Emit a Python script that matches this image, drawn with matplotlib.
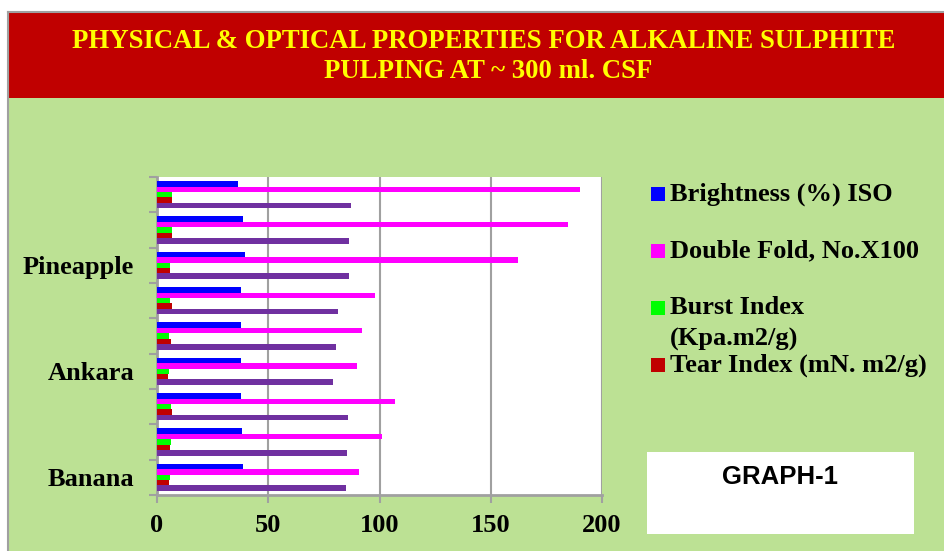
import matplotlib.pyplot as plt
import numpy as np
from matplotlib.patches import Rectangle

# groups from bottom to top; Excel only shows every third label
group_labels = ["Banana", "", "", "Ankara", "", "", "Pineapple", "", ""]

brightness = [38.8, 38.4, 37.8, 37.9, 37.8, 37.8, 39.4, 38.8, 36.3]
double_fold = [90.9, 100.9, 106.9, 90.0, 92.1, 98.1, 162.1, 184.6, 190.1]
burst_index = [5.8, 6.1, 6.4, 5.4, 5.5, 5.7, 6.0, 6.6, 6.9]
tear_index = [5.2, 5.7, 6.7, 4.8, 6.3, 6.6, 5.7, 6.6, 6.6]
fifth_series = [84.9, 85.2, 85.9, 79.0, 80.5, 81.3, 86.4, 86.4, 87.3]

legend_labels = ["Brightness (%) ISO", "Double Fold, No.X100",
                 "Burst Index", "Tear Index (mN. m2/g)"]

BLUE, MAGENTA, GREEN, RED, PURPLE = "#0000FF", "#FF00FF", "#00FF00", "#C00000", "#7030A0"
BG = "#BCE194"
W, H = 945, 551

fig = plt.figure(figsize=(9.45, 5.51), dpi=100, facecolor="white")

# frame: green body, red title band, grey border
fig.patches.append(Rectangle((9 / W, 0), 1, (H - 98) / H, transform=fig.transFigure,
                             facecolor=BG, edgecolor="none", zorder=0))
fig.patches.append(Rectangle((9 / W, (H - 98) / H), 1, 86 / H, transform=fig.transFigure,
                             facecolor="#C00000", edgecolor="none", zorder=0))
fig.lines.append(plt.Line2D([8.5 / W, 8.5 / W], [0, (H - 12) / H], transform=fig.transFigure,
                            color="#A0A0A0", lw=1.5))
fig.lines.append(plt.Line2D([8.5 / W, 1], [(H - 12) / H, (H - 12) / H], transform=fig.transFigure,
                            color="#A0A0A0", lw=1.5))

serif = "Liberation Serif"
fig.text(484 / W, (H - 41) / H, "PHYSICAL & OPTICAL PROPERTIES FOR ALKALINE SULPHITE",
         ha="center", va="center", color="#FFFF00", fontsize=19.3, fontweight="bold", family=serif)
fig.text(488 / W, (H - 72) / H, "PULPING AT ~ 300 ml. CSF",
         ha="center", va="center", color="#FFFF00", fontsize=19.3, fontweight="bold", family=serif)

ax = fig.add_axes([157 / W, (H - 495) / H, 445 / W, 318 / H])
ax.set_zorder(3)
ax.set_facecolor("white")

y = np.arange(len(group_labels))
h = 0.153
series = [(brightness, BLUE, 2), (double_fold, MAGENTA, 1), (burst_index, GREEN, 0),
          (tear_index, RED, -1), (fifth_series, PURPLE, -2)]
for vals, col, off in series:
    ax.barh(y + off * h, vals, height=h, color=col, edgecolor="none", zorder=3)

ax.set_xlim(0, 200)
ax.set_ylim(-0.5, len(group_labels) - 0.5)
ax.set_xticks([0, 50, 100, 150, 200])
ax.set_xticklabels(["0", "50", "100", "150", "200"], fontsize=19, fontweight="bold", family=serif)
ax.tick_params(axis="x", direction="out", length=6, width=1.5, color="#A0A0A0", pad=8)
ax.xaxis.grid(True, color="#A0A0A0", lw=1.5, zorder=1)

ax.set_yticks(np.arange(-0.5, len(group_labels), 1.0))
ax.set_yticklabels([])
ax.tick_params(axis="y", which="major", direction="out", length=6, width=1.5, color="#A0A0A0")
ax.set_yticks(y, minor=True)
ax.set_yticklabels(group_labels, minor=True, fontsize=19, fontweight="bold", family=serif)
ax.tick_params(axis="y", which="minor", length=0, pad=16.5)

for s in ["top", "right"]:
    ax.spines[s].set_visible(False)
for s in ["left", "bottom"]:
    ax.spines[s].set_color("#A0A0A0")
    ax.spines[s].set_linewidth(2)

# legend drawn by hand to match the spacing
leg_y = [194, 251, 308, 365]
for col, ly, lab in zip([BLUE, MAGENTA, GREEN, RED], leg_y, legend_labels):
    fig.patches.append(Rectangle((651 / W, (H - ly - 7) / H), 14 / W, 14 / H,
                                 transform=fig.transFigure, facecolor=col, edgecolor="none"))
    fig.text(670 / W, (H - ly) / H, lab, ha="left", va="center", fontsize=19,
             fontweight="bold", family=serif)
fig.text(670 / W, (H - 339) / H, "(Kpa.m2/g)", ha="left", va="center", fontsize=19,
         fontweight="bold", family=serif)

fig.patches.append(Rectangle((647 / W, (H - 534) / H), 267 / W, 82 / H, transform=fig.transFigure,
                             facecolor="white", edgecolor="none"))
fig.text(780 / W, (H - 477) / H, "GRAPH-1", ha="center", va="center", fontsize=18.5,
         fontweight="bold", family="Liberation Sans")

fig.savefig("out.png", dpi=100, facecolor=fig.get_facecolor())
